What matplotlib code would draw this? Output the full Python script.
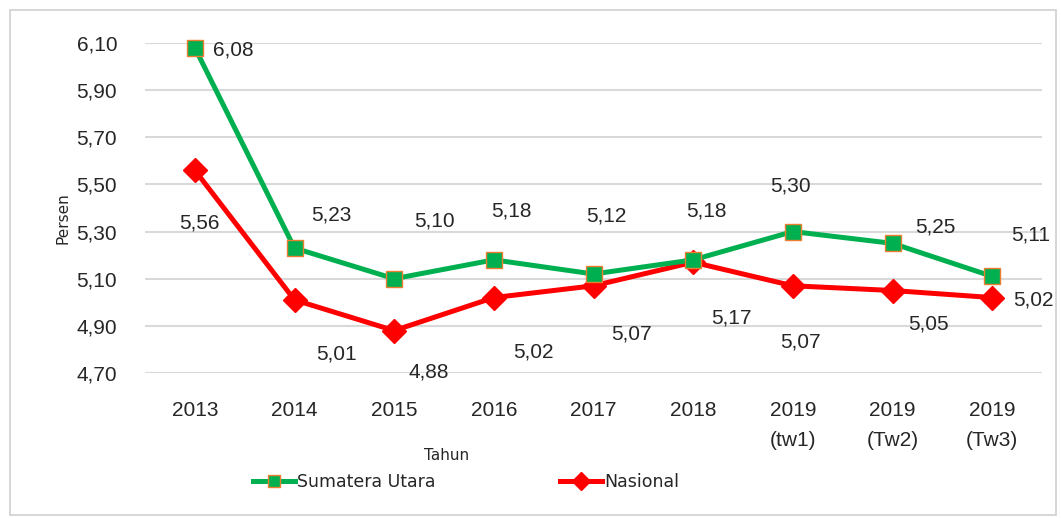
import matplotlib
matplotlib.use("Agg")
import matplotlib.pyplot as plt
from matplotlib.patches import Rectangle
from matplotlib.lines import Line2D

categories = ["2013", "2014", "2015", "2016", "2017", "2018",
              "2019\n(tw1)", "2019\n(Tw2)", "2019\n(Tw3)"]
sumut = [6.08, 5.23, 5.10, 5.18, 5.12, 5.18, 5.30, 5.25, 5.11]
nasional = [5.56, 5.01, 4.88, 5.02, 5.07, 5.17, 5.07, 5.05, 5.02]
yticks = [4.70, 4.90, 5.10, 5.30, 5.50, 5.70, 5.90, 6.10]

# label offsets in pixels (dx, dy up positive)
sumut_off = [(38, -2), (37, 33), (40, 58), (18, 49), (13, 58), (13, 49), (-2, 46), (43, 16), (38, 41)]
nas_off = [(5, -53), (42, -54), (35, -41), (40, -54), (38, -48), (38, -56), (8, -56), (36, -33), (41, -2)]

def fmt(v):
    return f"{v:.2f}".replace(".", ",")

FONT = ["Liberation Sans Narrow", "Liberation Sans", "DejaVu Sans"]
TXT = "#262626"

fig = plt.figure(figsize=(10.61, 5.18), dpi=100)
fig.patches.append(Rectangle((10/1061, 3/518), 1046/1061, 505/518, transform=fig.transFigure,
                             fill=False, edgecolor="#D0D0D0", linewidth=1.2))
ax = fig.add_axes([145/1061, 1 - 373/518, 897/1061, 330/518])

x = list(range(len(categories)))
ax.plot(x, sumut, color="#00B050", linewidth=3.6, marker="s", markersize=11,
        markerfacecolor="#00B050", markeredgecolor="#ED7D31", markeredgewidth=1.0, zorder=4)
ax.plot(x, nasional, color="#FF0000", linewidth=3.6, marker="D", markersize=12,
        markerfacecolor="#FF0000", markeredgecolor="#FF0000", zorder=3)

for i, v in enumerate(sumut):
    ax.annotate(fmt(v), (i, v), xytext=sumut_off[i], textcoords="offset pixels",
                ha="center", va="center", fontsize=15, family=FONT, color=TXT)
for i, v in enumerate(nasional):
    ax.annotate(fmt(v), (i, v), xytext=nas_off[i], textcoords="offset pixels",
                ha="center", va="center", fontsize=15, family=FONT, color=TXT)

ax.set_xlim(-0.5, len(categories) - 0.5)
ax.set_ylim(4.70, 6.10)
ax.set_yticks(yticks)
ax.set_yticklabels([fmt(v) for v in yticks], family=FONT, fontsize=15, color=TXT)
ax.set_xticks(x)
ax.set_xticklabels(categories, family=FONT, fontsize=15, color=TXT, linespacing=1.75)
ax.tick_params(axis="both", length=0)
ax.tick_params(axis="y", pad=20)
ax.tick_params(axis="x", pad=20)
ax.grid(axis="y", color="#D9D9D9", linewidth=1.5)
ax.set_axisbelow(True)
for s in ax.spines.values():
    s.set_visible(False)
for ln in ax.lines:
    ln.set_clip_on(False)

fig.text(63/1061, 1 - 218/518, "Persen", rotation=90, ha="center", va="center",
         fontsize=11, family=["DejaVu Sans"], color=TXT)
fig.text(447/1061, 1 - 455/518, "Tahun", ha="center", va="center",
         fontsize=11, family=["DejaVu Sans"], color=TXT)

handles = [
    Line2D([], [], color="#00B050", linewidth=3.6, marker="s", markersize=8,
           markerfacecolor="#00B050", markeredgecolor="#ED7D31"),
    Line2D([], [], color="#FF0000", linewidth=3.6, marker="D", markersize=9,
           markerfacecolor="#FF0000", markeredgecolor="#FF0000"),
]
fig.legend(handles, ["Sumatera Utara", "Nasional"], loc="center left",
           bbox_to_anchor=(253/1061, 1 - 482/518), ncol=2, frameon=False,
           prop={"family": "DejaVu Sans", "size": 12.5}, handlelength=2.4,
           handletextpad=0.12, columnspacing=7.2, labelcolor=TXT,
           borderpad=0, borderaxespad=0)

fig.savefig("out.png", dpi=100)
